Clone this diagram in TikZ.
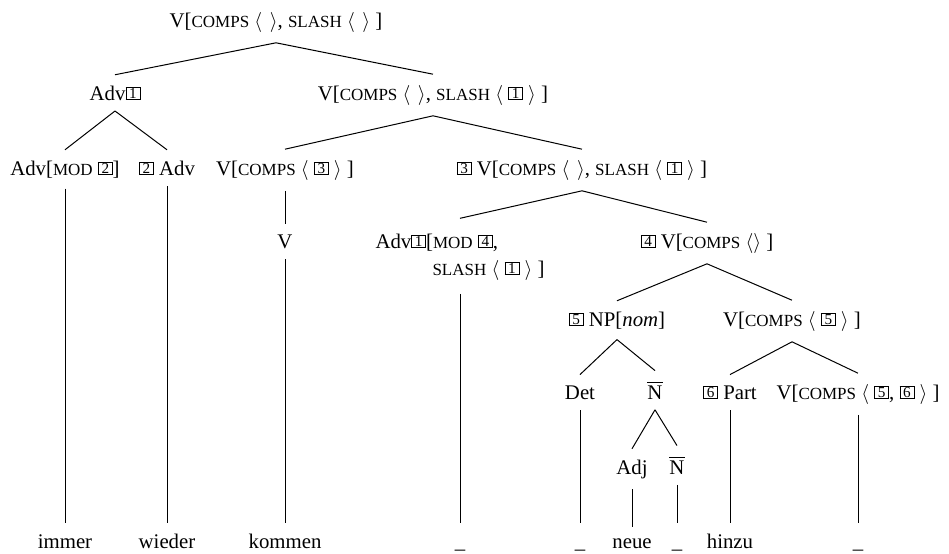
\documentclass[tikz,border=0pt]{standalone}
\usepackage{fontspec}
\setmainfont{Liberation Serif}
% small capitals imitated with reduced upper case
\newcommand\fsc[1]{{\fontsize{8.5}{9}\selectfont #1}}
% boxed tag numbers
\newcommand\bx[1]{\raisebox{0.8pt}{\fboxsep=0.4pt\fboxrule=0.4pt\fbox{\makebox[5.8pt]{\fontsize{7.6}{8}\selectfont #1}}}}
\newcommand\lA{$\langle$}
\newcommand\rA{$\rangle$}
% empty list and one-element list
\newcommand\emptylist{\lA\hspace{3.8pt}\rA}
\newcommand\onelist[1]{\lA\hspace{2.6pt}#1\hspace{2.6pt}\rA}
\newcommand\Nbar{$\overline{\mbox{N}}$}
\begin{document}
\begin{tikzpicture}[x=0.5pt,y=-0.5pt,
  lbl/.style={anchor=base,inner xsep=0pt,inner ysep=5.2pt,font=\fontsize{10.4}{12.5}\selectfont},
  word/.style={lbl},
  edge/.style={line width=0.5pt}]
\useasboundingbox (0,0) rectangle (949,553);

% phrase labels
\node[lbl] (root) at (276,27) {V[\fsc{COMPS} \emptylist, \fsc{SLASH} \emptylist\ ]};
\node[lbl] (adv1) at (115,100) {Adv\bx{1}};
\node[lbl] (vs1) at (433,100) {V[\fsc{COMPS} \emptylist, \fsc{SLASH} \onelist{\bx{1}}\ ]};
\node[lbl] (advmod2) at (65,175) {Adv[\fsc{MOD} \bx{2}]};
\node[lbl] (adv2) at (167,175) {\bx{2} Adv};
\node[lbl] (vc3) at (285,175) {V[\fsc{COMPS} \onelist{\bx{3}}\ ]};
\node[lbl] (v3s1) at (582,175) {\bx{3} V[\fsc{COMPS} \emptylist, \fsc{SLASH} \onelist{\bx{1}}\ ]};
\node[lbl] (vV) at (285,248) {V};
\node[lbl] (advmod4) at (460,248) {\renewcommand\arraystretch{1.08}\begin{tabular}[t]{@{}l@{}}Adv\bx{1}[\fsc{MOD} \bx{4},\\\hspace*{28.5pt}\fsc{SLASH} \onelist{\bx{1}}\ ]\end{tabular}};
\node[lbl] (v4) at (707,248) {\bx{4} V[\fsc{COMPS} \lA\rA\ ]};
\node[lbl] (np5) at (617,326) {\bx{5} NP[\textit{nom}]};
\node[lbl] (vc5) at (792,326) {V[\fsc{COMPS} \onelist{\bx{5}}\ ]};
\node[lbl] (det) at (580,399) {Det};
\node[lbl] (nbar) at (655,399) {\Nbar};
\node[lbl] (part6) at (730,399) {\bx{6} Part};
\node[lbl] (vc56) at (858,399) {V[\fsc{COMPS} \onelist{\bx{5}, \bx{6}}\ ]};
\node[lbl] (adj) at (632,474) {Adj};
\node[lbl] (nbar2) at (677,474) {\Nbar};

% words
\node[word] (w1) at (65,548) {immer};
\node[word] (w2) at (167,548) {wieder};
\node[word] (w3) at (285,548) {kommen};
\node[word] (w4) at (460,548) {\vphantom{k}\_};
\node[word] (w5) at (580,548) {\vphantom{k}\_};
\node[word] (w6) at (632,548) {neue};
\node[word] (w7) at (677,548) {\vphantom{k}\_};
\node[word] (w8) at (730,548) {hinzu};
\node[word] (w9) at (858,548) {\vphantom{k}\_};

% branches
\foreach \p/\c in {root/adv1, root/vs1, adv1/advmod2, adv1/adv2, vs1/vc3, vs1/v3s1,
  v3s1/advmod4, v3s1/v4, v4/np5, v4/vc5, np5/det, np5/nbar, vc5/part6, vc5/vc56,
  nbar/adj, nbar/nbar2, vc3/vV,
  advmod2/w1, adv2/w2, vV/w3, advmod4/w4, det/w5, adj/w6, nbar2/w7, part6/w8, vc56/w9}
  \draw[edge] (\p.south) -- (\c.north);
\end{tikzpicture}
\end{document}
